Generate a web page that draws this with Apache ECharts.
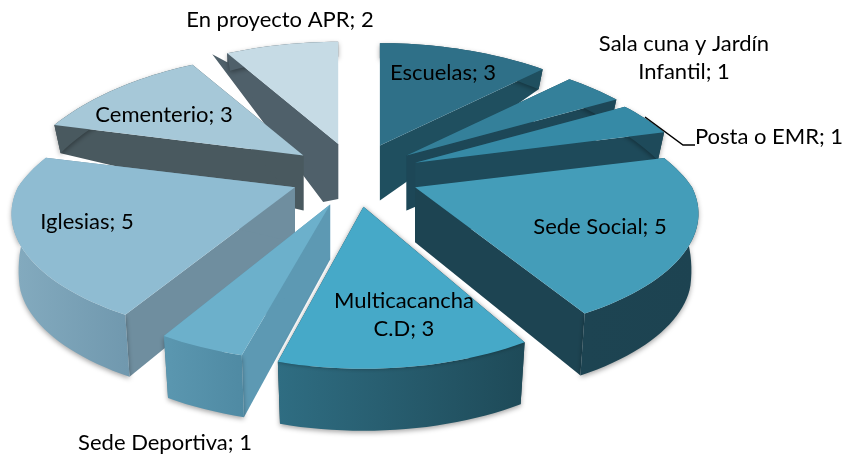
<!DOCTYPE html>
<html>
<head>
<meta charset="utf-8">
<title>Equipamiento</title>
<style>
  html, body { margin: 0; padding: 0; background: #fff; }
  #chart { width: 845px; height: 457px; }
</style>
</head>
<body>
<div id="chart"></div>
<script src="https://cdn.jsdelivr.net/npm/echarts@6/dist/echarts.min.js"></script>
<script>
// datos, en sentido horario desde las 12
const categories = ['Escuelas', 'Sala cuna y Jardín\nInfantil', 'Posta o EMR', 'Sede Social', 'Multicacancha\nC.D', 'Sede Deportiva', 'Iglesias', 'Cementerio', 'En proyecto APR']
const values = [3, 1, 1, 5, 3, 1, 5, 3, 2]

// orden de pintado, de atras hacia adelante
const drawOrder = [8, 7, 6, 0, 1, 2, 3, 5, 4]

// colores por porcion
const topColors = ['#2f7088', '#34809a', '#368aa6', '#449db9', '#46a9c8', '#6cb0cb', '#8fbcd2', '#a6c8d8', '#c6dbe5']
const edgeColors = ['#1f4f5f', '#1d4757', '#1e4a5a', '#1d4452', '#1f4c5b', '#5d99b3', '#6f8e9f', '#49595f', '#4f606a']
const rimColors = [['#1f4f5f', '#1f4f5f'], ['#1d4757', '#1d4757'], ['#1e4a5a', '#1e4a5a'], ['#1d4452', '#1d4351'], ['#2f6d82', '#1e4a58'], ['#5b97b0', '#4f8aa3'], ['#84abbf', '#7098ae'], ['#49595f', '#49595f'], ['#4f606a', '#4f606a']]

// posicion de las etiquetas
const labelPos = [[443, 73], [684, 58], [769, 137], [600, 227], [404, 315], [165, 443], [87, 222], [164, 115], [280, 20]]

// ajuste del radio por porcion
const scaleX = [1, 1, 1, 1, 0.95, 0.98, 1, 1, 1]
const scaleY = [1, 1, 1, 0.96, 1.03, 1, 0.97, 1, 1]

// parametros de la proyeccion
const cx = 355, cy = 175
const pullX = 65, pullY = 32
const radX = 277, radY = 124, persp = 0.212
const perspBack = 0.287
const tipDepth = 55

function rimDepth(v) {
  if (v <= -0.3) return 62
  if (v <= 0.26) return 62 - (v + 0.3) / 0.56 * 34
  return 28 - (v - 0.26) / 0.74 * 13
}

const total = values.reduce((a, b) => a + b, 0)

function sliceGeometry(i) {
  let sum = 0
  for (let k = 0; k < i; k++) sum += values[k]
  const a0 = sum / total * Math.PI * 2
  const a1 = (sum + values[i]) / total * Math.PI * 2
  const mid = (a0 + a1) / 2
  const tip = [cx + pullX * Math.sin(mid), cy - pullY * Math.cos(mid)]
  const top = []
  const bottom = []
  const steps = Math.max(4, values[i] * 8)
  for (let s = 0; s <= steps; s++) {
    const a = a0 + (a1 - a0) * s / steps
    const u = Math.sin(a)
    const v = Math.cos(a)
    const dx = scaleX[i] * radX * u / (1 + (v > 0 ? perspBack : persp) * v)
    const dy = -scaleY[i] * radY * v / (1 + persp * v)
    top.push([tip[0] + dx, tip[1] + dy])
    bottom.push([tip[0] + dx * 0.975, tip[1] + dy + rimDepth(v)])
  }
  return { tip, top, bottom }
}

function poly(points, fill, extra) {
  return {
    type: 'polygon',
    shape: { points },
    style: Object.assign({ fill }, extra || {})
  }
}

function renderSlice(params, api) {
  const i = api.value(0)
  const g = sliceGeometry(i)
  const tipLow = [g.tip[0], g.tip[1] + tipDepth]
  const n = g.top.length - 1
  const children = []

  // banda extra detras de "En proyecto APR"
  if (i === 8) {
    const r = g.top[0]
    children.push(poly([r, g.tip, tipLow, [tipLow[0] - 15, tipLow[1] + 3], [r[0] - 15, r[1] + 1], [r[0], r[1] + 9]], edgeColors[i]))
  }

  // paredes radiales
  children.push(poly([g.tip, g.top[0], g.bottom[0], tipLow], edgeColors[i]))
  children.push(poly([g.tip, g.top[n], g.bottom[n], tipLow], edgeColors[i]))

  // pared exterior
  const rim = g.top.concat(g.bottom.slice().reverse())
  children.push(poly(rim, new echarts.graphic.LinearGradient(0, 0, 1, 0, [
    { offset: 0, color: rimColors[i][0] },
    { offset: 1, color: rimColors[i][1] }
  ]), { shadowBlur: 5, shadowColor: 'rgba(0,0,0,0.35)', shadowOffsetY: 2 }))

  // cara superior
  const topStyle = i === 4 ? { shadowBlur: 4, shadowColor: 'rgba(0,0,0,0.35)' } : null
  children.push(poly([g.tip].concat(g.top), topColors[i], topStyle))

  return { type: 'group', children }
}

function renderLabel(params, api) {
  const i = api.value(0)
  return {
    type: 'text',
    z2: 100,
    style: {
      text: categories[i] + '; ' + values[i],
      x: labelPos[i][0],
      y: labelPos[i][1],
      align: 'center',
      verticalAlign: 'middle',
      fill: '#000',
      lineHeight: 28,
      font: '22px Lato, sans-serif'
    }
  }
}

const chart = echarts.init(document.getElementById('chart'), null, { renderer: 'canvas' })
chart.setOption({
  animation: false,
  series: [
    {
      type: 'custom',
      coordinateSystem: 'none',
      silent: true,
      z: 1,
      data: drawOrder.map(i => [i]),
      renderItem: renderSlice
    },
    {
      type: 'custom',
      coordinateSystem: 'none',
      silent: true,
      z: 3,
      data: categories.map((c, i) => [i]),
      renderItem: renderLabel
    },
    {
      // linea guia de Posta o EMR
      type: 'custom',
      coordinateSystem: 'none',
      silent: true,
      z: 2,
      data: [[2]],
      renderItem: function() {
        return {
          type: 'polyline',
          shape: { points: [[645, 117], [683, 145], [695, 145]] },
          style: { stroke: '#000', lineWidth: 1.5, fill: null }
        }
      }
    }
  ]
})
</script>
</body>
</html>
